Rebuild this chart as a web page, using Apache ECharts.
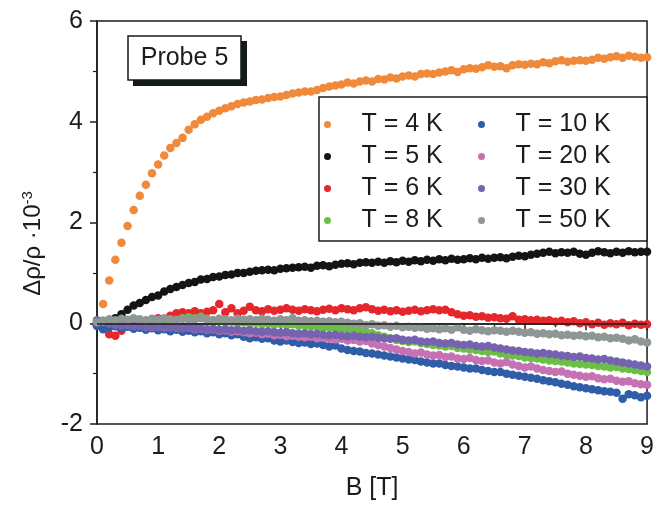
<!DOCTYPE html>
<html>
<head>
<meta charset="utf-8">
<script src="https://cdn.jsdelivr.net/npm/echarts@6/dist/echarts.min.js"></script>
<style>
  html, body { margin: 0; padding: 0; background: #fff; }
  #chart { width: 657px; height: 506px; }
</style>
</head>
<body>
<div id="chart"></div>
<script>
// magnetic field B [T]
var fieldB = [0, 0.1, 0.2, 0.3, 0.4, 0.5, 0.6, 0.7, 0.8, 0.9,
    1, 1.1, 1.2, 1.3, 1.4, 1.5, 1.6, 1.7, 1.8, 1.9,
    2, 2.1, 2.2, 2.3, 2.4, 2.5, 2.6, 2.7, 2.8, 2.9,
    3, 3.1, 3.2, 3.3, 3.4, 3.5, 3.6, 3.7, 3.8, 3.9,
    4, 4.1, 4.2, 4.3, 4.4, 4.5, 4.6, 4.7, 4.8, 4.9,
    5, 5.1, 5.2, 5.3, 5.4, 5.5, 5.6, 5.7, 5.8, 5.9,
    6, 6.1, 6.2, 6.3, 6.4, 6.5, 6.6, 6.7, 6.8, 6.9,
    7, 7.1, 7.2, 7.3, 7.4, 7.5, 7.6, 7.7, 7.8, 7.9,
    8, 8.1, 8.2, 8.3, 8.4, 8.5, 8.6, 8.7, 8.8, 8.9, 9];

// delta rho / rho * 10^-3, one list per temperature
var t4K = [-0.05, 0.38, 0.85, 1.26, 1.6, 1.93, 2.25, 2.53, 2.75, 2.98,
    3.15, 3.33, 3.48, 3.58, 3.68, 3.84, 3.95, 4.04, 4.1, 4.17,
    4.22, 4.27, 4.31, 4.35, 4.38, 4.4, 4.43, 4.44, 4.47, 4.49,
    4.5, 4.53, 4.56, 4.58, 4.6, 4.6, 4.63, 4.67, 4.7, 4.72,
    4.74, 4.78, 4.76, 4.8, 4.82, 4.8, 4.85, 4.84, 4.88, 4.86,
    4.9, 4.92, 4.9, 4.95, 4.96, 4.95, 4.98, 5.0, 5.02, 4.99,
    5.04, 5.06, 5.05, 5.08, 5.12, 5.09, 5.1, 5.06, 5.12, 5.14,
    5.13, 5.15, 5.14, 5.18, 5.16, 5.2, 5.22, 5.19, 5.21, 5.22,
    5.21, 5.23, 5.27, 5.25, 5.28, 5.3, 5.27, 5.31, 5.29, 5.27, 5.28];
var t5K = [0.0, 0.0, 0.03, 0.1, 0.18, 0.27, 0.35, 0.4, 0.46, 0.52,
    0.55, 0.63, 0.68, 0.72, 0.76, 0.8, 0.82, 0.87, 0.88, 0.92,
    0.93, 0.96, 0.97, 1.0, 1.0, 1.02, 1.04, 1.05, 1.06, 1.05,
    1.08, 1.09, 1.1, 1.11, 1.12, 1.1, 1.14, 1.15, 1.13, 1.16,
    1.18, 1.19, 1.17, 1.2, 1.21, 1.2, 1.22, 1.2, 1.23, 1.21,
    1.24, 1.22, 1.25, 1.23, 1.26, 1.24, 1.27, 1.25, 1.28, 1.26,
    1.27, 1.29, 1.27, 1.3, 1.28, 1.3, 1.31, 1.29, 1.32, 1.34,
    1.33, 1.36, 1.38, 1.4, 1.42, 1.39, 1.41, 1.4, 1.42, 1.38,
    1.36, 1.4, 1.43, 1.41, 1.39, 1.42, 1.4, 1.43, 1.41, 1.42, 1.42];
var t6K = [-0.05, -0.1, -0.22, -0.25, -0.15, -0.05, -0.02, -0.08, 0.0, 0.05,
    0.1, 0.08, 0.15, 0.2, 0.22, 0.2, 0.24, 0.2, 0.23, 0.26,
    0.38, 0.22, 0.3, 0.2, 0.25, 0.33, 0.26, 0.24, 0.28, 0.25,
    0.27, 0.3, 0.27, 0.25, 0.28, 0.26, 0.24, 0.27, 0.29, 0.26,
    0.3, 0.28, 0.26, 0.3, 0.32, 0.28, 0.25, 0.27, 0.24, 0.26,
    0.23, 0.25, 0.27, 0.24, 0.26, 0.28, 0.26, 0.27, 0.22, 0.18,
    0.15, 0.16, 0.13, 0.14, 0.11, 0.12, 0.1, 0.09, 0.14, 0.07,
    0.08, 0.06, 0.07, 0.05, 0.06, 0.03, 0.05, 0.02, 0.04, 0.0,
    0.02, -0.02, 0.01, -0.03, 0.0, -0.02, 0.01, -0.04, -0.01, -0.03, -0.02];
var t8K = [0.03, 0.05, 0.02, 0.04, 0.01, 0.03, 0.0, 0.02, 0.04, 0.01,
    0.03, 0.0, 0.05, 0.07, 0.1, 0.12, 0.1, 0.13, 0.09, 0.06,
    0.04, 0.02, 0.03, 0.0, 0.02, -0.01, 0.01, -0.02, 0.0, -0.03,
    -0.01, -0.04, -0.02, -0.05, -0.04, -0.07, -0.06, -0.09, -0.08, -0.11,
    -0.1, -0.13, -0.12, -0.15, -0.17, -0.2, -0.24, -0.27, -0.3, -0.33,
    -0.35, -0.37, -0.36, -0.39, -0.41, -0.43, -0.44, -0.46, -0.45, -0.49,
    -0.5, -0.52, -0.53, -0.55, -0.57, -0.56, -0.6, -0.62, -0.64, -0.65,
    -0.68, -0.69, -0.7, -0.72, -0.74, -0.75, -0.76, -0.78, -0.8, -0.81,
    -0.82, -0.83, -0.85, -0.86, -0.88, -0.87, -0.9, -0.91, -0.93, -0.95, -0.97];
var t10K = [-0.05, -0.12, -0.08, -0.06, -0.1, -0.07, -0.11, -0.09, -0.13, -0.1,
    -0.14, -0.12, -0.16, -0.13, -0.17, -0.15, -0.18, -0.16, -0.2, -0.18,
    -0.22, -0.2, -0.24, -0.22, -0.27, -0.3, -0.28, -0.31, -0.3, -0.34,
    -0.36, -0.34, -0.37, -0.39, -0.38, -0.41, -0.4, -0.43, -0.46, -0.44,
    -0.5, -0.53, -0.55, -0.56, -0.59, -0.6, -0.62, -0.64, -0.66, -0.68,
    -0.7, -0.72, -0.73, -0.76, -0.78, -0.8, -0.8, -0.83, -0.85, -0.86,
    -0.88, -0.9, -0.9, -0.93, -0.95, -0.97, -0.97, -1.0, -1.02, -1.04,
    -1.06, -1.08, -1.1, -1.13, -1.15, -1.17, -1.2, -1.22, -1.25, -1.27,
    -1.29, -1.31, -1.33, -1.35, -1.36, -1.38, -1.5, -1.41, -1.43, -1.47, -1.44];
var t20K = [0.05, 0.03, 0.0, 0.02, -0.01, -0.03, -0.02, -0.05, -0.04, -0.07,
    -0.06, -0.08, -0.07, -0.09, -0.1, -0.09, -0.12, -0.11, -0.13, -0.12,
    -0.15, -0.14, -0.17, -0.16, -0.18, -0.2, -0.19, -0.22, -0.21, -0.24,
    -0.23, -0.26, -0.25, -0.27, -0.28, -0.27, -0.3, -0.29, -0.31, -0.32,
    -0.31, -0.34, -0.33, -0.36, -0.35, -0.4, -0.43, -0.46, -0.49, -0.52,
    -0.55, -0.57, -0.6, -0.58, -0.62, -0.64, -0.63, -0.67, -0.66, -0.7,
    -0.71, -0.69, -0.73, -0.75, -0.74, -0.78, -0.8, -0.77, -0.82, -0.85,
    -0.88, -0.86, -0.9, -0.93, -0.95, -0.97, -0.96, -1.0, -1.02, -1.04,
    -1.06, -1.05, -1.09, -1.11, -1.1, -1.14, -1.16, -1.15, -1.19, -1.21, -1.22];
var t30K = [0.06, 0.04, 0.0, -0.03, -0.05, -0.04, -0.06, -0.05, -0.08, -0.06,
    -0.08, -0.07, -0.09, -0.08, -0.1, -0.09, -0.11, -0.1, -0.12, -0.11,
    -0.13, -0.12, -0.14, -0.13, -0.15, -0.14, -0.16, -0.17, -0.16, -0.18,
    -0.19, -0.18, -0.2, -0.21, -0.2, -0.22, -0.21, -0.23, -0.24, -0.23,
    -0.25, -0.26, -0.25, -0.27, -0.28, -0.27, -0.29, -0.3, -0.31, -0.3,
    -0.33, -0.34, -0.33, -0.36, -0.37, -0.36, -0.39, -0.4, -0.39, -0.42,
    -0.43, -0.42, -0.45, -0.46, -0.45, -0.48, -0.5, -0.52, -0.54, -0.55,
    -0.57, -0.58, -0.6, -0.59, -0.61, -0.62, -0.64, -0.65, -0.67, -0.66,
    -0.69, -0.7, -0.72, -0.71, -0.74, -0.76, -0.78, -0.8, -0.82, -0.84, -0.86];
var t50K = [0.02, 0.05, 0.08, 0.06, 0.09, 0.07, 0.1, 0.08, 0.06, 0.09,
    0.07, 0.1, 0.08, 0.06, 0.09, 0.07, 0.08, 0.1, 0.07, 0.06,
    0.09, 0.08, 0.06, 0.09, 0.07, 0.08, 0.06, 0.09, 0.07, 0.05,
    0.08, 0.06, 0.1, 0.05, 0.06, 0.04, 0.05, 0.03, 0.04, 0.02,
    0.03, 0.01, -0.01, 0.0, -0.04, -0.02, -0.05, -0.04, -0.07, -0.05,
    -0.08, -0.07, -0.09, -0.08, -0.11, -0.1, -0.12, -0.1, -0.13, -0.08,
    -0.13, -0.15, -0.12, -0.14, -0.16, -0.14, -0.15, -0.17, -0.15, -0.17,
    -0.19, -0.18, -0.21, -0.2, -0.22, -0.21, -0.24, -0.23, -0.25, -0.24,
    -0.26, -0.25, -0.28, -0.27, -0.3, -0.29, -0.31, -0.34, -0.32, -0.36, -0.38];

var seriesNames = ['T = 4 K', 'T = 5 K', 'T = 6 K', 'T = 8 K',
    'T = 10 K', 'T = 20 K', 'T = 30 K', 'T = 50 K'];
var seriesValues = [t4K, t5K, t6K, t8K, t10K, t20K, t30K, t50K];
var seriesColors = ['#f08a3a', '#141414', '#e5272c', '#6cbf46',
    '#2f5da8', '#c571b4', '#7563b0', '#8e9696'];

var font = 'Liberation Sans, Arial, sans-serif';
var ink = '#1c1c1c';

var myChart = echarts.init(document.getElementById('chart'));

var series = [];
for (var n = 0; n < seriesNames.length; n++) {
    var vals = seriesValues[n];
    series.push({
        name: seriesNames[n],
        type: 'scatter',
        symbol: 'circle',
        symbolSize: 8.5,
        itemStyle: {color: seriesColors[n], opacity: 1},
        data: fieldB.map(function (b, i) { return [b, vals[i]]; }),
        z: 2
    });
}
// zero reference line, drawn over the dots
series.push({
    type: 'scatter',
    data: [],
    z: 6,
    markLine: {
        silent: true,
        symbol: 'none',
        label: {show: false},
        lineStyle: {color: ink, width: 1.5, type: 'solid'},
        data: [{yAxis: 0}]
    }
});

var legendText = {fontSize: 25, fontFamily: font, color: ink, lineHeight: 24};

var option = {
    animation: false,
    backgroundColor: '#fff',
    grid: {
        left: 97, right: 8, top: 21, bottom: 79,
        show: true, borderColor: ink, borderWidth: 1.5, backgroundColor: 'transparent'
    },
    legend: [
        {
            data: seriesNames.slice(0, 4),
            orient: 'vertical', left: 319, top: 107,
            itemWidth: 58, itemHeight: 7, itemGap: 7, icon: 'circle',
            textStyle: legendText, selectedMode: false, z: 5
        },
        {
            data: seriesNames.slice(4),
            orient: 'vertical', left: 473, top: 107,
            itemWidth: 58, itemHeight: 7, itemGap: 7, icon: 'circle',
            textStyle: legendText, selectedMode: false, z: 5
        }
    ],
    graphic: [
        // legend frame
        {
            type: 'rect', z: 4,
            shape: {x: 319, y: 97, width: 328, height: 144},
            style: {fill: '#fff', stroke: ink, lineWidth: 1.5}
        },
        // "Probe 5" label with drop shadow
        {
            type: 'rect', z: 4,
            shape: {x: 133, y: 41, width: 114, height: 45},
            style: {fill: '#141b19'}
        },
        {
            type: 'rect', z: 5,
            shape: {x: 128, y: 36, width: 113, height: 44},
            style: {fill: '#fff', stroke: '#141b19', lineWidth: 1.5}
        },
        {
            type: 'text', z: 6, x: 184.5, y: 58,
            style: {text: 'Probe 5', font: '25px ' + font, fill: ink,
                textAlign: 'center', textVerticalAlign: 'middle'}
        }
    ],
    xAxis: {
        type: 'value', min: 0, max: 9, interval: 1,
        name: 'B [T]', nameLocation: 'middle', nameGap: 52,
        nameTextStyle: {fontSize: 25, fontFamily: font, color: ink},
        axisLine: {lineStyle: {color: ink, width: 1.5}},
        axisTick: {inside: false, length: 7, lineStyle: {color: ink, width: 1.5}},
        minorTick: {show: true, splitNumber: 2, length: 4, lineStyle: {color: ink, width: 1.2}},
        axisLabel: {fontSize: 25, fontFamily: font, color: ink, margin: 11},
        splitLine: {show: false}
    },
    yAxis: {
        type: 'value', min: -2, max: 6, interval: 2,
        name: '{m|Δρ/ρ ·10}{s|-3}', nameLocation: 'middle', nameRotate: 90, nameGap: 50,
        nameTextStyle: {
            padding: [0, 42, 0, 0],
            rich: {
                m: {fontSize: 24, fontFamily: font, color: ink},
                s: {fontSize: 15, fontFamily: font, color: ink, verticalAlign: 'top', padding: [0, 0, 12, 0]}
            }
        },
        axisLine: {lineStyle: {color: ink, width: 1.5}},
        axisTick: {inside: false, length: 7, lineStyle: {color: ink, width: 1.5}},
        minorTick: {show: true, splitNumber: 2, length: 4, lineStyle: {color: ink, width: 1.2}},
        axisLabel: {fontSize: 25, fontFamily: font, color: ink, margin: 14},
        splitLine: {show: false}
    },
    series: series
};

myChart.setOption(option);
</script>
</body>
</html>
